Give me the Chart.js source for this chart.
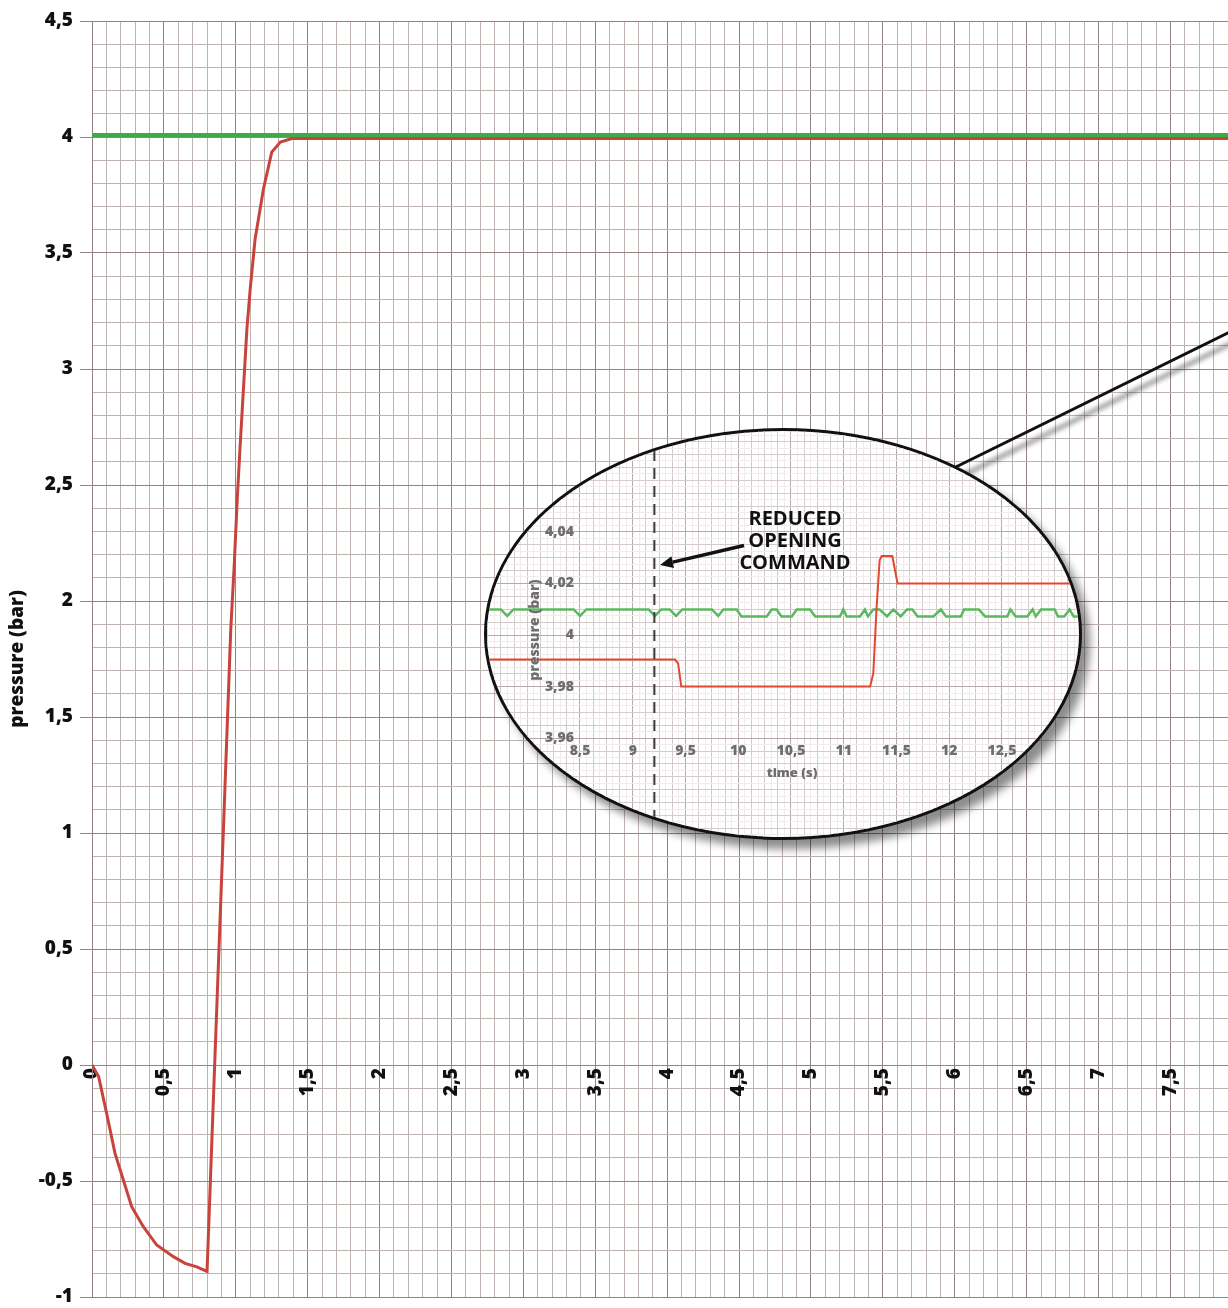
<!DOCTYPE html>
<html>
<head>
<meta charset="utf-8">
<script src="https://cdn.jsdelivr.net/npm/chart.js@4.4.1/dist/chart.umd.min.js"></script>
<style>
html,body{margin:0;padding:0;background:#fff;overflow:hidden;}
#wrap{position:relative;width:1228px;height:1308px;overflow:hidden;}
#main{position:absolute;left:0;top:0;}
svg{position:absolute;left:0;top:0;pointer-events:none;}
#lens{position:absolute;left:484px;top:428px;width:598px;height:412px;box-sizing:border-box;border:3px solid #111;border-radius:50%;overflow:hidden;background:#fff;box-shadow:8px 9px 9px rgba(0,0,0,0.45);}
#inset{position:absolute;left:0;top:0;}
.note{position:absolute;font-family:'Open Sans',sans-serif;font-weight:800;white-space:nowrap;}
#cmd{left:695px;width:200px;top:507px;text-align:center;font-size:20px;line-height:22px;color:#111;font-weight:700;}
#tlabel{left:742px;width:100px;top:764px;text-align:center;font-size:13px;line-height:16px;color:#6e6e6e;}
#plabel{left:474px;width:120px;top:622px;height:16px;text-align:center;font-size:14px;line-height:16px;color:#6e6e6e;transform:rotate(-90deg);transform-origin:50% 50%;}
</style>
</head>
<body>
<div id="wrap">
<canvas id="main" width="1228" height="1308"></canvas>
<svg width="1228" height="1308">
  <defs><filter id="soft" x="-10%" y="-50%" width="120%" height="200%"><feGaussianBlur stdDeviation="2"/></filter></defs>
  <line x1="900" y1="506.5" x2="1240" y2="339" stroke="rgba(0,0,0,0.35)" stroke-width="5" filter="url(#soft)"/>
  <line x1="900" y1="494.5" x2="1240" y2="327" stroke="#111" stroke-width="3"/>
</svg>
<div id="lens"><canvas id="inset" width="592" height="406"></canvas></div>
<svg width="1228" height="1308">
  <line x1="744" y1="545.5" x2="672.7" y2="562.1" stroke="#111" stroke-width="3.5"/>
  <polygon points="660,565 674,568 671.4,556.3" fill="#111"/>
</svg>
<div class="note" id="cmd">REDUCED<br>OPENING<br>COMMAND</div>
<div class="note" id="tlabel">time (s)</div>
<div class="note" id="plabel">pressure (bar)</div>
</div>
<script>
// ---------- main chart data ----------
const mainRedT = [0, 0.046, 0.102, 0.16, 0.218, 0.276, 0.357, 0.45, 0.566, 0.647, 0.729, 0.80, 0.853, 0.913, 0.965, 0.99, 1.011, 1.03, 1.053, 1.077, 1.1, 1.134, 1.192, 1.25, 1.31, 1.39, 7.9];
const mainRedP = [0, -0.05, -0.209, -0.381, -0.496, -0.611, -0.697, -0.776, -0.826, -0.855, -0.87, -0.89, 0, 1, 1.877, 2.166, 2.452, 2.667, 2.912, 3.171, 3.343, 3.559, 3.775, 3.935, 3.978, 3.993, 3.993];
const mainGreenT = [0, 7.9];
const mainGreenP = [4.009, 4.009];

const mainXLabels = [0, 0.5, 1, 1.5, 2, 2.5, 3, 3.5, 4, 4.5, 5, 5.5, 6, 6.5, 7, 7.5];
const mainYLabels = [-1, -0.5, 0, 0.5, 1, 1.5, 2, 2.5, 3, 3.5, 4, 4.5];

// ---------- zoomed (inset) chart data ----------
const zoomRedT = [7.6, 9.40, 9.43, 9.46, 11.25, 11.28, 11.31, 11.34, 11.36, 11.46, 11.51, 13.3];
const zoomRedP = [3.9905, 3.9905, 3.989, 3.98, 3.98, 3.985, 4.0097, 4.029, 4.0306, 4.0306, 4.02, 4.02];

const zoomGreenT = [7.60, 7.75, 7.81, 7.87, 8.44, 8.50, 8.56, 9.15, 9.21, 9.27, 9.35, 9.41, 9.47, 9.75, 9.81, 9.86,
  9.985, 10.03, 10.27, 10.317, 10.364, 10.41, 10.507, 10.554, 10.68, 10.73, 10.964, 10.996, 11.028,
  11.154, 11.20, 11.23, 11.28, 11.34, 11.41, 11.47, 11.54, 11.60, 11.65, 11.70, 11.85, 11.92, 11.97,
  12.11, 12.14, 12.28, 12.34, 12.55, 12.58, 12.63, 12.74, 12.79, 12.82, 12.87, 13.0, 13.03, 13.09, 13.14, 13.18, 13.3];
const zoomGreenP = [4.0099, 4.0099, 4.0074, 4.0099, 4.0099, 4.0074, 4.0099, 4.0099, 4.0074, 4.0099, 4.0099, 4.0074, 4.0099, 4.0099, 4.0074, 4.0099,
  4.0099, 4.0072, 4.0072, 4.0099, 4.0099, 4.0072, 4.0072, 4.0099, 4.0099, 4.0072, 4.0072, 4.0099, 4.0072,
  4.0072, 4.0099, 4.0072, 4.0099, 4.0099, 4.0072, 4.0099, 4.0072, 4.0099, 4.0099, 4.0072, 4.0072, 4.0099, 4.0072,
  4.0072, 4.0099, 4.0099, 4.0072, 4.0072, 4.0099, 4.0072, 4.0072, 4.0099, 4.0072, 4.0099, 4.0099, 4.0072, 4.0072, 4.0099, 4.0072, 4.0072];

const cmdT = [9.205, 9.205];
const cmdP = [3.90, 4.10];

const insetXLabels = [8.5, 9, 9.5, 10, 10.5, 11, 11.5, 12, 12.5];
const insetYLabels = [3.96, 3.98, 4, 4.02, 4.04];

// ---------- helpers ----------
const pts = (xs, ys) => xs.map((x, i) => ({x: x, y: ys[i]}));
const fmt = v => String(+v.toFixed(4)).replace('.', ',');
const inList = (v, list) => list.some(l => Math.abs(l - v) < 1e-7);
const onStep = (v, step) => Math.abs(v / step - Math.round(v / step)) < 1e-6;
function gridValues(min, max, step) {
  const out = [];
  const start = Math.ceil(min / step - 1e-9);
  const end = Math.floor(max / step + 1e-9);
  for (let i = start; i <= end; i++) out.push(+(i * step).toFixed(6));
  return out;
}

Chart.defaults.font.family = "'Open Sans', sans-serif";

// ---------- main chart ----------
const M_MAJOR = '#928482', M_MINOR = '#bfb3b2';
function mainGridColor(labels) {
  return ctx => (ctx.tick && inList(ctx.tick.value, labels)) ? M_MAJOR : M_MINOR;
}

new Chart(document.getElementById('main'), {
  type: 'line',
  data: {
    datasets: [
      {label: 'outlet pressure', data: pts(mainRedT, mainRedP), borderColor: '#c8433b', borderWidth: 3, pointRadius: 0, tension: 0},
      {label: 'inlet pressure', data: pts(mainGreenT, mainGreenP), borderColor: '#3dab48', borderWidth: 4, pointRadius: 0, tension: 0}
    ]
  },
  options: {
    responsive: false, animation: false, devicePixelRatio: 1,
    layout: {padding: {top: 21, bottom: 11, left: 0, right: 0}},
    plugins: {legend: {display: false}, tooltip: {enabled: false}},
    scales: {
      x: {
        type: 'linear', min: 0, max: 7.9, position: {y: 0},
        afterBuildTicks: s => { s.ticks = gridValues(0, 7.9, 0.1).map(v => ({value: v})); },
        afterFit: s => { s.paddingLeft = 0; s.paddingRight = 0; },
        grid: {color: mainGridColor(mainXLabels), drawTicks: false, lineWidth: 1},
        border: {display: false},
        ticks: {autoSkip: false, minRotation: 90, maxRotation: 90, padding: 3, color: '#111',
                font: {size: 19, weight: '800'},
                callback: v => inList(v, mainXLabels) ? fmt(v) : ''}
      },
      y: {
        type: 'linear', min: -1, max: 4.5,
        afterBuildTicks: s => { s.ticks = gridValues(-1, 4.5, 0.1).map(v => ({value: v})); },
        afterFit: s => { s.width = 92; s.paddingTop = 0; s.paddingBottom = 0; },
        grid: {color: mainGridColor(mainYLabels), lineWidth: 1, tickLength: 12,
               tickColor: ctx => (ctx.tick && inList(ctx.tick.value, mainYLabels)) ? M_MAJOR : 'rgba(0,0,0,0)'},
        border: {display: true, color: M_MAJOR},
        ticks: {autoSkip: false, padding: 7, color: '#111', font: {size: 19, weight: '800'},
                callback: v => inList(v, mainYLabels) ? fmt(v) : ''},
        title: {display: true, text: 'pressure (bar)', color: '#111', font: {size: 19, weight: '800'}, padding: {top: 6, bottom: 0}}
      }
    }
  }
});

// ---------- inset (zoomed) chart ----------
const I_X_MIN = 7.6185, I_X_MAX = 13.2299, I_Y_MIN = 3.92168, I_Y_MAX = 4.0791;
const I_MAJOR = '#b5aaa9', I_MINOR = '#d3cac9', I_FAINT = '#f0ecec';
function insetGridColor(labels, step) {
  return ctx => {
    if (!ctx.tick) return I_MINOR;
    const v = ctx.tick.value;
    if (inList(v, labels)) return I_MAJOR;
    if (onStep(v, step)) return I_MINOR;
    return I_FAINT;
  };
}

new Chart(document.getElementById('inset'), {
  type: 'line',
  data: {
    datasets: [
      {label: 'reduced opening command', data: pts(cmdT, cmdP), borderColor: '#3a3a3a', borderWidth: 2, borderDash: [11, 7], pointRadius: 0},
      {label: 'outlet pressure', data: pts(zoomRedT, zoomRedP), borderColor: '#e2482f', borderWidth: 2, pointRadius: 0, tension: 0},
      {label: 'inlet pressure', data: pts(zoomGreenT, zoomGreenP), borderColor: '#5cb85f', borderWidth: 2.5, pointRadius: 0, tension: 0}
    ]
  },
  options: {
    responsive: false, animation: false, devicePixelRatio: 1,
    layout: {padding: 0},
    plugins: {legend: {display: false}, tooltip: {enabled: false}},
    scales: {
      x: {
        type: 'linear', min: I_X_MIN, max: I_X_MAX, position: {y: 3.96},
        afterBuildTicks: s => { s.ticks = gridValues(I_X_MIN, I_X_MAX, 0.0625).map(v => ({value: v})); },
        afterFit: s => { s.paddingLeft = 0; s.paddingRight = 0; s.paddingTop = 0; s.paddingBottom = 0; },
        grid: {color: insetGridColor(insetXLabels, 0.125), drawTicks: false, lineWidth: 1},
        border: {display: false},
        ticks: {autoSkip: false, maxRotation: 0, padding: 4, color: '#6e6e6e', font: {size: 14, weight: '800'},
                callback: v => inList(v, insetXLabels) ? fmt(v) : ''}
      },
      y: {
        type: 'linear', min: I_Y_MIN, max: I_Y_MAX, position: {x: 8.443},
        afterBuildTicks: s => { s.ticks = gridValues(I_Y_MIN, I_Y_MAX, 0.0025).map(v => ({value: v})); },
        afterFit: s => { s.paddingLeft = 0; s.paddingRight = 0; s.paddingTop = 0; s.paddingBottom = 0; },
        grid: {color: insetGridColor(insetYLabels, 0.005), drawTicks: false, lineWidth: 1},
        border: {display: false},
        ticks: {autoSkip: false, padding: 0, color: '#6e6e6e', font: {size: 14, weight: '800'},
                callback: v => inList(v, insetYLabels) ? fmt(v) : ''}
      }
    }
  }
});
</script>
</body>
</html>
